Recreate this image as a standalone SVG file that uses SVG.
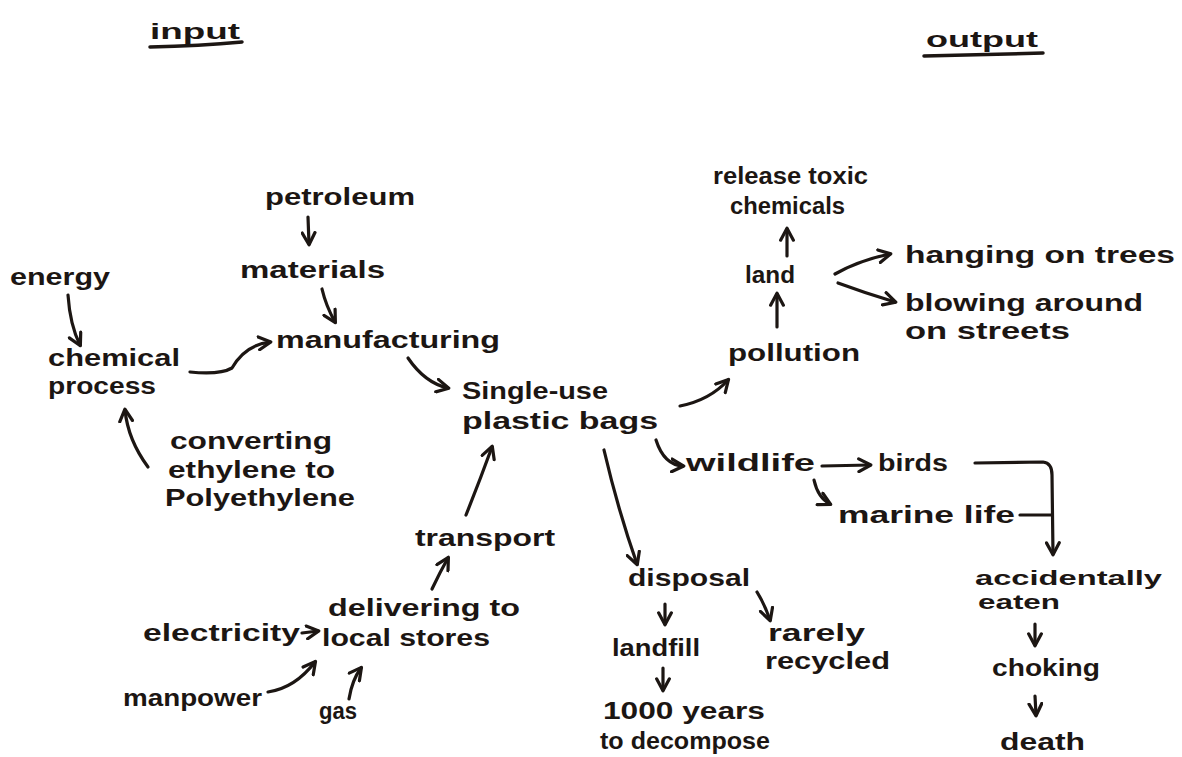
<svg xmlns="http://www.w3.org/2000/svg" width="1182" height="757" viewBox="0 0 1182 757">
<style>
text{font-family:"Liberation Sans",Arial,sans-serif;font-weight:bold;font-size:23px;fill:#1c1613;}
.t{font-size:22px;}
.s{font-size:20px;}
.c path{fill:none;stroke:#1c1613;stroke-width:3.2;stroke-linecap:round;stroke-linejoin:round;}
.u{fill:none;stroke:#1c1613;stroke-width:3.5;stroke-linecap:round;}
</style>
<defs>
<marker id="a" viewBox="0 0 10 10" refX="8" refY="5" markerWidth="5" markerHeight="5" orient="auto" markerUnits="strokeWidth">
<path d="M1,1 L8.5,5 L1,9" fill="none" stroke="#1c1613" stroke-width="2" stroke-linecap="round" stroke-linejoin="round"/>
</marker>
</defs>
<rect width="1182" height="757" fill="#ffffff"/>
<g id="input"><text x="150" y="39" class="t" textLength="90" lengthAdjust="spacingAndGlyphs">input</text><path class="u" d="M150,47 Q200,46 242,42"/></g>
<g id="output"><text x="926" y="47" class="t" textLength="112" lengthAdjust="spacingAndGlyphs">output</text><path class="u" d="M924,56 L1043,53"/></g>
<g id="petroleum"><text x="265" y="205" textLength="150" lengthAdjust="spacingAndGlyphs">petroleum</text></g>
<g id="materials"><text x="240" y="278" textLength="145" lengthAdjust="spacingAndGlyphs">materials</text></g>
<g id="manufacturing"><text x="276" y="348" textLength="224" lengthAdjust="spacingAndGlyphs">manufacturing</text></g>
<g id="energy"><text x="10" y="285" textLength="100" lengthAdjust="spacingAndGlyphs">energy</text></g>
<g id="chemical-process"><text x="48" y="366" textLength="132" lengthAdjust="spacingAndGlyphs">chemical</text><text x="48" y="394" textLength="108" lengthAdjust="spacingAndGlyphs">process</text></g>
<g id="converting"><text x="170" y="449" textLength="162" lengthAdjust="spacingAndGlyphs">converting</text><text x="168" y="478" textLength="167" lengthAdjust="spacingAndGlyphs">ethylene to</text><text x="165" y="506" textLength="190" lengthAdjust="spacingAndGlyphs">Polyethylene</text></g>
<g id="single-use"><text x="462" y="399" textLength="146" lengthAdjust="spacingAndGlyphs">Single-use</text><text x="462" y="429" textLength="196" lengthAdjust="spacingAndGlyphs">plastic bags</text></g>
<g id="transport"><text x="415" y="546" textLength="140" lengthAdjust="spacingAndGlyphs">transport</text></g>
<g id="delivering"><text x="328" y="616" textLength="192" lengthAdjust="spacingAndGlyphs">delivering to</text><text x="322" y="646" textLength="168" lengthAdjust="spacingAndGlyphs">local stores</text></g>
<g id="electricity"><text x="143" y="641" textLength="157" lengthAdjust="spacingAndGlyphs">electricity</text></g>
<g id="manpower"><text x="123" y="706" textLength="139" lengthAdjust="spacingAndGlyphs">manpower</text></g>
<g id="gas"><text x="319" y="719" textLength="38" lengthAdjust="spacingAndGlyphs">gas</text></g>
<g id="pollution"><text x="728" y="361" textLength="132" lengthAdjust="spacingAndGlyphs">pollution</text></g>
<g id="land"><text x="745" y="283" textLength="50" lengthAdjust="spacingAndGlyphs">land</text></g>
<g id="release"><text x="713" y="184" textLength="155" lengthAdjust="spacingAndGlyphs">release toxic</text><text x="730" y="214" textLength="115" lengthAdjust="spacingAndGlyphs">chemicals</text></g>
<g id="hanging"><text x="905" y="263" textLength="270" lengthAdjust="spacingAndGlyphs">hanging on trees</text></g>
<g id="blowing"><text x="905" y="311" textLength="238" lengthAdjust="spacingAndGlyphs">blowing around</text><text x="905" y="339" textLength="165" lengthAdjust="spacingAndGlyphs">on streets</text></g>
<g id="wildlife"><text x="686" y="471" textLength="129" lengthAdjust="spacingAndGlyphs">wildlife</text></g>
<g id="birds"><text x="878" y="471" textLength="70" lengthAdjust="spacingAndGlyphs">birds</text></g>
<g id="marine-life"><text x="838" y="523" textLength="177" lengthAdjust="spacingAndGlyphs">marine life</text></g>
<g id="accidentally"><text x="975" y="585" class="s" textLength="187" lengthAdjust="spacingAndGlyphs">accidentally</text><text x="978" y="609" class="s" textLength="82" lengthAdjust="spacingAndGlyphs">eaten</text></g>
<g id="choking"><text x="992" y="676" textLength="108" lengthAdjust="spacingAndGlyphs">choking</text></g>
<g id="death"><text x="1000" y="750" textLength="85" lengthAdjust="spacingAndGlyphs">death</text></g>
<g id="disposal"><text x="628" y="586" textLength="122" lengthAdjust="spacingAndGlyphs">disposal</text></g>
<g id="landfill"><text x="612" y="656" textLength="88" lengthAdjust="spacingAndGlyphs">landfill</text></g>
<g id="rarely"><text x="768" y="641" textLength="97" lengthAdjust="spacingAndGlyphs">rarely</text><text x="765" y="669" textLength="125" lengthAdjust="spacingAndGlyphs">recycled</text></g>
<g id="decompose"><text x="603" y="719" textLength="162" lengthAdjust="spacingAndGlyphs">1000 years</text><text x="600" y="749" textLength="170" lengthAdjust="spacingAndGlyphs">to decompose</text></g>
<g id="connectors" class="c">
<path d="M308,217 L309,244" marker-end="url(#a)"/>
<path d="M322,289 Q326,306 335,322" marker-end="url(#a)"/>
<path d="M68,295 Q70,325 80,345" marker-end="url(#a)"/>
<path d="M190,372 Q220,375 232,368 Q245,345 270,342" marker-end="url(#a)"/>
<path d="M408,358 Q425,383 448,388" marker-end="url(#a)"/>
<path d="M148,467 Q128,440 125,410" marker-end="url(#a)"/>
<path d="M466,515 Q480,480 492,447" marker-end="url(#a)"/>
<path d="M432,589 Q440,572 448,558" marker-end="url(#a)"/>
<path d="M302,633 L318,631" marker-end="url(#a)"/>
<path d="M268,692 Q295,688 315,662" marker-end="url(#a)"/>
<path d="M349,699 Q352,680 361,668" marker-end="url(#a)"/>
<path d="M680,406 Q710,400 728,380" marker-end="url(#a)"/>
<path d="M777,327 L777,294" marker-end="url(#a)"/>
<path d="M787,256 L787,229" marker-end="url(#a)"/>
<path d="M835,274 Q860,260 890,254" marker-end="url(#a)"/>
<path d="M838,283 Q865,293 895,302" marker-end="url(#a)"/>
<path d="M656,440 Q664,465 683,466" marker-end="url(#a)"/>
<path d="M822,466 L870,465" marker-end="url(#a)"/>
<path d="M814,480 Q818,498 830,504" marker-end="url(#a)"/>
<path d="M975,463 L1043,462 Q1052,463 1052,475 L1053,554" marker-end="url(#a)"/>
<path d="M1020,515 L1052,515"/>
<path d="M1035,624 L1035,645" marker-end="url(#a)"/>
<path d="M1035,696 L1036,715" marker-end="url(#a)"/>
<path d="M604,450 Q618,510 637,564" marker-end="url(#a)"/>
<path d="M665,604 L665,624" marker-end="url(#a)"/>
<path d="M757,592 Q765,605 770,620" marker-end="url(#a)"/>
<path d="M663,668 L663,690" marker-end="url(#a)"/>
</g>
</svg>
